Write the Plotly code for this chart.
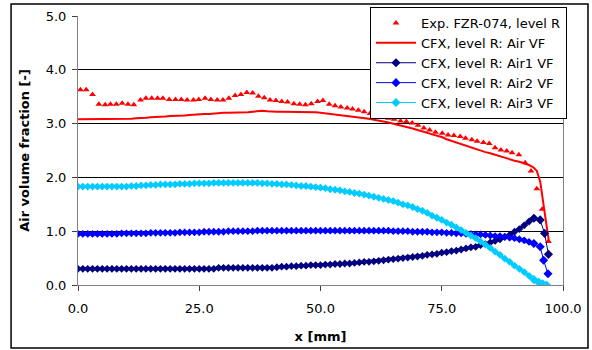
import plotly.graph_objects as go

# Experimental data (FZR-074, level R)
exp_x = [0.5, 1.7, 3.0, 4.3, 5.6, 6.7, 7.9, 9.1, 10.3, 11.5,
         12.9, 14.0, 15.2, 16.4, 17.5, 18.8, 20.1, 21.3, 22.5, 23.8,
         24.9, 26.2, 27.4, 28.7, 29.9, 31.1, 32.4, 33.6, 34.8, 36.0,
         37.2, 38.4, 39.6, 40.8, 42.0, 43.2, 44.5, 45.7, 46.9, 48.1,
         49.4, 50.5, 51.8, 53.0, 54.2, 55.5, 56.6, 57.8, 59.0, 60.2,
         61.5, 62.7, 64.0, 65.2, 66.5, 67.7, 68.9, 70.1, 71.3, 72.5,
         73.7, 75.1, 76.3, 77.5, 78.8, 79.9, 81.2, 82.3, 83.6, 84.8,
         86.0, 87.2, 88.4, 89.5, 90.9, 92.2, 93.4, 94.6, 95.7, 97.0]
exp_v = [3.63, 3.63, 3.54, 3.36, 3.35, 3.36, 3.36, 3.38, 3.36, 3.35,
         3.44, 3.47, 3.47, 3.47, 3.47, 3.45, 3.45, 3.45, 3.44, 3.44,
         3.45, 3.47, 3.45, 3.44, 3.44, 3.47, 3.52, 3.54, 3.58, 3.57,
         3.51, 3.48, 3.44, 3.43, 3.41, 3.40, 3.37, 3.36, 3.35, 3.37,
         3.41, 3.43, 3.36, 3.33, 3.31, 3.29, 3.27, 3.25, 3.22, 3.19,
         3.16, 3.12, 3.10, 3.08, 3.05, 3.04, 3.01, 2.97, 2.92, 2.88,
         2.84, 2.82, 2.79, 2.78, 2.76, 2.73, 2.70, 2.67, 2.65, 2.63,
         2.55, 2.51, 2.49, 2.46, 2.42, 2.27, 2.12, 1.79, 1.41, 0.81]

# CFX grid (mm) for the body of the profiles
cfx_x_body = list(range(0, 95))

air_body = [3.08, 3.08, 3.08, 3.08, 3.08, 3.08, 3.08, 3.08, 3.08, 3.08,
            3.08, 3.09, 3.10, 3.10, 3.11, 3.12, 3.12, 3.13, 3.13, 3.14,
            3.14, 3.15, 3.15, 3.16, 3.17, 3.17, 3.18, 3.18, 3.19, 3.20,
            3.20, 3.20, 3.20, 3.21, 3.21, 3.21, 3.22, 3.23, 3.24, 3.23,
            3.22, 3.22, 3.22, 3.22, 3.22, 3.22, 3.21, 3.21, 3.21, 3.21,
            3.20, 3.19, 3.18, 3.17, 3.16, 3.15, 3.14, 3.13, 3.11, 3.10,
            3.09, 3.07, 3.06, 3.04, 3.02, 3.00, 2.98, 2.96, 2.94, 2.91,
            2.88, 2.86, 2.83, 2.80, 2.78, 2.75, 2.71, 2.68, 2.64, 2.61,
            2.58, 2.55, 2.53, 2.50, 2.47, 2.45, 2.42, 2.39, 2.36, 2.33,
            2.31, 2.29, 2.26, 2.23, 2.18]
air_tail_x = [94.6, 95.3, 95.9, 96.6, 97.1]
air_tail_v = [2.12, 1.92, 1.52, 1.15, 0.80]

air1_body = [
    0.30, 0.30, 0.30, 0.30, 0.30, 0.30, 0.30, 0.30, 0.30, 0.30,
    0.30, 0.30, 0.30, 0.30, 0.30, 0.30, 0.30, 0.30, 0.30, 0.30,
    0.30, 0.30, 0.30, 0.30, 0.30, 0.30, 0.30, 0.30, 0.30, 0.32,
    0.32, 0.32, 0.32, 0.32, 0.32, 0.32, 0.32, 0.32, 0.32, 0.32,
    0.32, 0.33, 0.34, 0.34, 0.35, 0.35, 0.36, 0.36, 0.37, 0.37,
    0.37, 0.38, 0.38, 0.39, 0.39, 0.40, 0.40, 0.41, 0.42, 0.43,
    0.43, 0.44, 0.45, 0.46, 0.47, 0.48, 0.49, 0.50, 0.51, 0.52,
    0.53, 0.54, 0.56, 0.57, 0.58, 0.60, 0.61, 0.63, 0.64, 0.66,
    0.68, 0.70, 0.71, 0.74, 0.76, 0.79, 0.82, 0.85, 0.89, 0.93,
    0.99, 1.04, 1.11, 1.18, 1.24]
air1_tail_x = [95.3, 96.2, 97.0]
air1_tail_v = [1.21, 0.96, 0.57]

air2_body = [
    0.95, 0.95, 0.95, 0.95, 0.95, 0.95, 0.95, 0.95, 0.95, 0.96,
    0.96, 0.96, 0.96, 0.96, 0.96, 0.97, 0.97, 0.97, 0.97, 0.97,
    0.97, 0.98, 0.98, 0.98, 0.98, 0.98, 0.99, 0.99, 0.99, 0.99,
    0.99, 1.00, 1.00, 1.00, 1.00, 1.00, 1.00, 1.01, 1.01, 1.01,
    1.01, 1.01, 1.01, 1.01, 1.01, 1.01, 1.01, 1.01, 1.01, 1.01,
    1.01, 1.01, 1.01, 1.01, 1.01, 1.01, 1.01, 1.01, 1.01, 1.01,
    1.01, 1.01, 1.01, 1.01, 1.01, 1.00, 1.00, 1.00, 1.00, 0.99,
    0.99, 0.99, 0.99, 0.98, 0.98, 0.98, 0.97, 0.97, 0.96, 0.96,
    0.95, 0.95, 0.94, 0.94, 0.93, 0.92, 0.91, 0.91, 0.90, 0.88,
    0.87, 0.85, 0.83, 0.80, 0.77]
air2_tail_x = [95.3, 96.0, 96.9]
air2_tail_v = [0.71, 0.46, 0.21]

air3_body = [
    1.83, 1.83, 1.83, 1.83, 1.83, 1.83, 1.83, 1.83, 1.83, 1.83,
    1.83, 1.84, 1.84, 1.85, 1.85, 1.86, 1.86, 1.87, 1.87, 1.87,
    1.87, 1.88, 1.88, 1.88, 1.89, 1.89, 1.89, 1.89, 1.90, 1.90,
    1.90, 1.90, 1.90, 1.90, 1.90, 1.90, 1.90, 1.90, 1.89, 1.89,
    1.88, 1.88, 1.87, 1.87, 1.86, 1.85, 1.84, 1.84, 1.83, 1.82,
    1.81, 1.80, 1.78, 1.77, 1.76, 1.74, 1.73, 1.71, 1.70, 1.68,
    1.66, 1.64, 1.62, 1.60, 1.58, 1.56, 1.53, 1.50, 1.48, 1.45,
    1.41, 1.38, 1.34, 1.29, 1.25, 1.21, 1.16, 1.12, 1.07, 1.02,
    0.97, 0.92, 0.87, 0.81, 0.75, 0.69, 0.62, 0.56, 0.49, 0.43,
    0.36, 0.30, 0.24, 0.17, 0.10]
air3_tail_x = [95.0, 95.8, 96.6]
air3_tail_v = [0.05, 0.02, 0.00]

x_ticks = [0, 25, 50, 75, 100]
x_tick_text = ["0.0", "25.0", "50.0", "75.0", "100.0"]
y_ticks = [0, 1, 2, 3, 4, 5]
y_tick_text = ["0.0", "1.0", "2.0", "3.0", "4.0", "5.0"]

FONT = "DejaVu Sans, Arial, sans-serif"
NAVY = "#000080"
BLUE = "#0000FF"
CYAN = "#00CCFF"
RED = "#FF0000"

fig = go.Figure()
fig.add_trace(go.Scatter(
    x=exp_x, y=exp_v, mode="markers", name="Exp. FZR-074, level R",
    legendrank=1,
    marker=dict(symbol="triangle-up", size=6, color=RED)))
fig.add_trace(go.Scatter(
    x=cfx_x_body + air_tail_x, y=air_body + air_tail_v, mode="lines",
    name="CFX, level R: Air VF", legendrank=2,
    line=dict(color=RED, width=2)))
for rank, name, body, tx, tv, col in [
        (3, "CFX, level R: Air1 VF", air1_body, air1_tail_x, air1_tail_v, NAVY),
        (4, "CFX, level R: Air2 VF", air2_body, air2_tail_x, air2_tail_v, BLUE),
        (5, "CFX, level R: Air3 VF", air3_body, air3_tail_x, air3_tail_v, CYAN)]:
    # dense body of the profile
    fig.add_trace(go.Scatter(
        x=cfx_x_body, y=body, mode="lines+markers", name=name,
        showlegend=False, legendgroup=name,
        line=dict(color=col, width=3),
        marker=dict(symbol="diamond", size=6, color=col)))
    # near-wall tail (sparser points, thin connector)
    fig.add_trace(go.Scatter(
        x=cfx_x_body[-1:] + tx, y=body[-1:] + tv, mode="lines+markers",
        name=name, legendgroup=name, legendrank=rank,
        line=dict(color=col, width=1),
        marker=dict(symbol="diamond", size=7, color=col)))

fig.update_layout(
    width=592, height=350,
    margin=dict(l=78, r=29, t=16, b=65, autoexpand=False),
    paper_bgcolor="white", plot_bgcolor="white",
    font=dict(family=FONT, size=13, color="black"),
    showlegend=True,
    legend=dict(x=0.602, y=1.0335, xanchor="left", yanchor="top",
                bgcolor="white", bordercolor="black", borderwidth=1,
                font=dict(family=FONT, size=13, color="black"),
                itemwidth=40, tracegroupgap=0,
                entrywidth=170, entrywidthmode="pixels"),
    xaxis=dict(range=[0, 100], tickvals=x_ticks, ticktext=x_tick_text,
               showgrid=False, zeroline=False, showline=True,
               linecolor="#808080", linewidth=1, mirror=False,
               ticks="outside", ticklen=5, tickcolor="#404040",
               ticklabelstandoff=6,
               title=dict(text="<b>x [mm]</b>", font=dict(size=13), standoff=17)),
    yaxis=dict(range=[0, 5], tickvals=y_ticks, ticktext=y_tick_text,
               showgrid=True, gridcolor="black", gridwidth=1,
               zeroline=False, showline=True,
               linecolor="#808080", linewidth=1, mirror=True,
               ticks="outside", ticklen=5, tickcolor="#404040",
               ticklabelstandoff=3,
               title=dict(text="<b>Air volume fraction [-]</b>", font=dict(size=13), standoff=13)),
    shapes=[dict(type="rect", xref="paper", yref="paper",
                 x0=-0.138, x1=1.0515, y0=-0.234, y1=1.0446,
                 line=dict(color="black", width=1.5), layer="below")],
)

fig.write_html("out.html",
               config={"displayModeBar": False},
               post_script="document.body.style.margin='0';document.body.style.overflow='hidden';")
